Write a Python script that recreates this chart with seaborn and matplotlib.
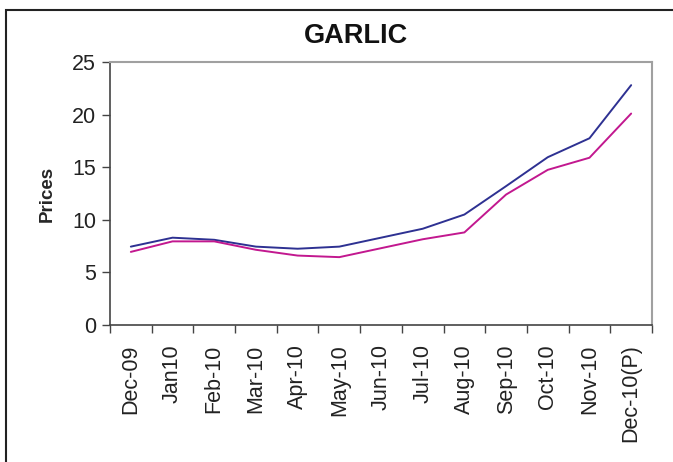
import numpy as np
import pandas as pd
import matplotlib
matplotlib.use("Agg")
import matplotlib.pyplot as plt
import matplotlib.ticker as mticker
from matplotlib.patches import Rectangle
import seaborn as sns

# ---- data ----
months = ["Dec-09", "Jan10", "Feb-10", "Mar-10", "Apr-10", "May-10", "Jun-10",
          "Jul-10", "Aug-10", "Sep-10", "Oct-10", "Nov-10", "Dec-10(P)"]
series_a = [7.45, 8.3, 8.1, 7.45, 7.25, 7.45, 8.3, 9.15, 10.5, 13.2, 15.95, 17.75, 22.8]
series_b = [6.95, 7.95, 7.95, 7.15, 6.6, 6.45, 7.3, 8.15, 8.8, 12.4, 14.75, 15.9, 20.1]

df = pd.DataFrame({
    "month": months * 2,
    "x": list(range(len(months))) * 2,
    "price": series_a + series_b,
    "series": ["A"] * len(months) + ["B"] * len(months),
})

sns.set_theme(style="white")
plt.rcParams["font.family"] = ["Liberation Sans", "DejaVu Sans"]

fig = plt.figure(figsize=(6.73, 4.62), dpi=100)
ax = fig.add_axes([110 / 673, 1 - 325 / 462, (652 - 110) / 673, (325 - 62) / 462])

sns.lineplot(data=df, x="x", y="price", hue="series",
             palette={"A": "#2E3192", "B": "#C2188F"},
             linewidth=1.4, legend=False, ax=ax)

ax.set_xlim(-0.5, len(months) - 0.5)
ax.set_ylim(0, 25)
ax.yaxis.set_major_locator(mticker.MultipleLocator(5))

# Excel-style category axis: ticks between categories, labels centered
ax.set_xticks(np.arange(len(months)))
ax.set_xticklabels(months, rotation=90, fontsize=15.5, color="#222222")
ax.set_xticks(np.arange(-0.5, len(months)), minor=True)
ax.tick_params(axis="x", which="major", length=0, pad=14)
ax.tick_params(axis="x", which="minor", length=6, width=1, color="#444444",
               direction="out", bottom=True)
ax.tick_params(axis="y", length=6, width=1, color="#444444", direction="out",
               left=True, labelsize=15.5, pad=4, labelcolor="#222222")

ax.set_xlabel("")
ax.set_ylabel("Prices", fontsize=13.5, fontweight="bold")
ax.yaxis.set_label_coords(-0.10, 0.5)

for s in ["left", "bottom"]:
    ax.spines[s].set_color("#444444")
    ax.spines[s].set_linewidth(1.2)
for s in ["top", "right"]:
    ax.spines[s].set_color("#A0A0A0")
    ax.spines[s].set_linewidth(1.5)

fig.text(356 / 673, 1 - 36 / 462, "GARLIC", ha="center", va="center",
         fontsize=19.5, fontweight="bold", color="#111111")

# chart area border (extends past the cropped picture)
fig.patches.append(Rectangle((6 / 673, -0.1), 1.2, 1.1 - 10 / 462,
                             transform=fig.transFigure, fill=False,
                             edgecolor="#222222", linewidth=1.5))

plt.savefig("out.png", dpi=100)
plt.close()
